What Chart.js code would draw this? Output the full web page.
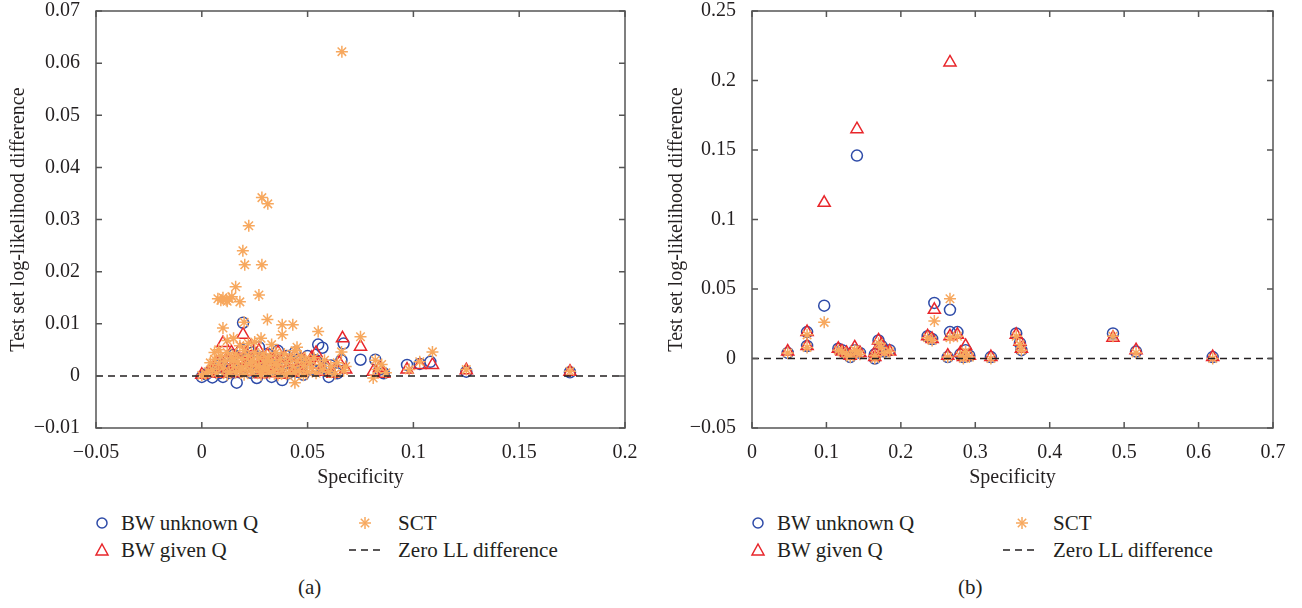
<!DOCTYPE html>
<html>
<head>
<meta charset="utf-8">
<script src="https://cdn.jsdelivr.net/npm/chart.js@4.4.0/dist/chart.umd.min.js"></script>
<style>
  body { margin: 0; background: #fff; width: 1302px; height: 608px; position: relative; overflow: hidden; }
  canvas { position: absolute; top: 0; }
  .lg, .cap { position: absolute; font-family: 'Liberation Serif', serif; color: #231f20; font-size: 21px; line-height: 24px; white-space: nowrap; }
  .mk { position: absolute; }
</style>
</head>
<body>
<canvas id="chartA" width="651" height="500" style="left:0"></canvas>
<canvas id="chartB" width="651" height="500" style="left:651px"></canvas>

<!-- legend (a) -->
<svg class="mk" style="left:94px;top:515px" width="16" height="16"><circle cx="8" cy="8" r="5" fill="none" stroke="#2e4ba8" stroke-width="1.5"/></svg>
<div class="lg" style="left:121px;top:511px">BW unknown Q</div>
<svg class="mk" style="left:94px;top:542px" width="16" height="16"><polygon points="8,2 14,13 2,13" fill="none" stroke="#e8262b" stroke-width="1.5"/></svg>
<div class="lg" style="left:121px;top:538px">BW given Q</div>
<svg class="mk" style="left:357px;top:515px" width="16" height="16"><g stroke="#f7a85e" stroke-width="1.5"><line x1="2" y1="8" x2="14" y2="8"/><line x1="8" y1="2" x2="8" y2="14"/><line x1="3.8" y1="3.8" x2="12.2" y2="12.2"/><line x1="3.8" y1="12.2" x2="12.2" y2="3.8"/></g></svg>
<div class="lg" style="left:398px;top:511px">SCT</div>
<svg class="mk" style="left:349px;top:542px" width="36" height="16"><line x1="0" y1="8" x2="34" y2="8" stroke="#231f20" stroke-width="1.5" stroke-dasharray="7,5"/></svg>
<div class="lg" style="left:398px;top:538px">Zero LL difference</div>
<div class="cap" style="left:298px;top:575px">(a)</div>

<!-- legend (b) -->
<svg class="mk" style="left:750px;top:515px" width="16" height="16"><circle cx="8" cy="8" r="5" fill="none" stroke="#2e4ba8" stroke-width="1.5"/></svg>
<div class="lg" style="left:777px;top:511px">BW unknown Q</div>
<svg class="mk" style="left:750px;top:542px" width="16" height="16"><polygon points="8,2 14,13 2,13" fill="none" stroke="#e8262b" stroke-width="1.5"/></svg>
<div class="lg" style="left:777px;top:538px">BW given Q</div>
<svg class="mk" style="left:1014px;top:515px" width="16" height="16"><g stroke="#f7a85e" stroke-width="1.5"><line x1="2" y1="8" x2="14" y2="8"/><line x1="8" y1="2" x2="8" y2="14"/><line x1="3.8" y1="3.8" x2="12.2" y2="12.2"/><line x1="3.8" y1="12.2" x2="12.2" y2="3.8"/></g></svg>
<div class="lg" style="left:1053px;top:511px">SCT</div>
<svg class="mk" style="left:1003px;top:542px" width="36" height="16"><line x1="0" y1="8" x2="34" y2="8" stroke="#231f20" stroke-width="1.5" stroke-dasharray="7,5"/></svg>
<div class="lg" style="left:1053px;top:538px">Zero LL difference</div>
<div class="cap" style="left:958px;top:575px">(b)</div>

<script>
// ---- tick values ----
const aXTicks = [-0.05, 0, 0.05, 0.1, 0.15, 0.2];
const aYTicks = [-0.01, 0, 0.01, 0.02, 0.03, 0.04, 0.05, 0.06, 0.07];
const bXTicks = [0, 0.1, 0.2, 0.3, 0.4, 0.5, 0.6, 0.7];
const bYTicks = [-0.05, 0, 0.05, 0.1, 0.15, 0.2, 0.25];

const xTitle = "Specificity";
const yTitle = "Test set log-likelihood difference";

// ---- panel (a) : [specificity, LL difference] ----
const aBwUnknown = [
  [0.000,-0.0002],[0.002,0.0003],[0.004,0.0008],[0.005,-0.0003],[0.006,0.0012],[0.007,0.002],[0.008,0.0005],
  [0.009,0.0025],[0.010,-0.0002],[0.011,0.0015],[0.012,0.003],[0.013,0.0006],[0.014,0.0022],[0.015,0.004],
  [0.0165,-0.0013],[0.017,0.0012],[0.018,0.003],[0.019,0.005],[0.0195,0.0102],[0.021,0.0018],[0.022,0.0035],
  [0.023,0.0006],[0.024,0.0045],[0.025,0.0026],[0.026,-0.0004],[0.027,0.0055],[0.028,0.0015],[0.029,0.0032],
  [0.030,0.0008],[0.031,0.0042],[0.032,0.0022],[0.033,-0.0002],[0.034,0.0035],[0.035,0.0012],[0.036,0.0048],
  [0.037,0.0025],[0.038,-0.0008],[0.039,0.0015],[0.040,0.0038],[0.041,0.0005],[0.042,0.0028],[0.043,0.0018],
  [0.044,0.0045],[0.045,0.0008],[0.046,0.0032],[0.047,0.002],[0.048,0.0002],[0.050,0.0038],[0.052,0.0012],
  [0.054,0.003],[0.055,0.006],[0.057,0.0054],[0.058,0.0015],[0.060,-0.0002],[0.061,0.002],[0.064,0.0005],
  [0.066,0.003],[0.067,0.0062],[0.075,0.0031],[0.082,0.0031],[0.084,0.0012],[0.086,0.0005],[0.097,0.0021],
  [0.103,0.0023],[0.108,0.0027],[0.125,0.0008],[0.174,0.0007]
];
const aBwGiven = [
  [0.000,0.0002],[0.003,0.0006],[0.005,0.0015],[0.007,0.0025],[0.008,0.0004],[0.010,0.0063],[0.011,0.0018],
  [0.012,0.0035],[0.013,0.001],[0.014,0.0045],[0.015,0.0022],[0.016,0.0005],[0.017,0.003],[0.018,0.005],
  [0.0195,0.0079],[0.020,0.0015],[0.021,0.0042],[0.022,0.0025],[0.023,0.0055],[0.024,0.0008],[0.025,0.0035],
  [0.026,0.0018],[0.027,0.0048],[0.028,0.0003],[0.029,0.003],[0.030,0.0012],[0.031,0.004],[0.032,0.0022],
  [0.033,0.0005],[0.034,0.0032],[0.035,0.0015],[0.036,0.0045],[0.037,0.0025],[0.038,0.0002],[0.039,0.0035],
  [0.040,0.0012],[0.042,0.0028],[0.043,0.0008],[0.044,0.0038],[0.046,0.0018],[0.047,0.0006],[0.048,0.003],
  [0.050,0.0015],[0.052,0.0035],[0.054,0.0044],[0.055,0.0022],[0.057,0.0008],[0.059,0.0018],[0.062,0.0004],
  [0.065,0.0025],[0.0665,0.0072],[0.068,0.0012],[0.075,0.0056],[0.081,0.0008],[0.084,0.0015],[0.086,0.0004],
  [0.097,0.0012],[0.103,0.0021],[0.109,0.0021],[0.125,0.0011],[0.174,0.0008]
];
const aSct = [
  [0.0662,0.0622],[0.0284,0.0342],[0.0312,0.033],[0.0222,0.0288],[0.0194,0.024],[0.0203,0.0213],[0.0284,0.0213],
  [0.016,0.0171],[0.027,0.0155],[0.018,0.0142],[0.0076,0.0148],[0.009,0.0145],[0.010,0.015],[0.0115,0.0146],
  [0.013,0.0148],[0.0142,0.0152],[0.012,0.0143],
  [0.031,0.0108],[0.038,0.0098],[0.043,0.0098],[0.020,0.0103],[0.010,0.0092],[0.038,0.0079],[0.055,0.0085],
  [0.075,0.0075],[0.109,0.0046],[0.103,0.0027],[0.082,0.003],[0.066,0.0046],[0.081,-0.0004],[0.044,-0.0013],
  [0.012,0.0068],[0.015,0.0072],[0.022,0.0062],[0.018,0.0058],[0.025,0.0065],[0.033,0.006],[0.045,0.0055],
  [0.028,0.0072],[0.006,0.0045],[0.008,0.005],
  [0.003,0.0008],[0.004,0.0025],[0.005,0.0012],[0.006,0.0032],[0.007,0.0005],[0.008,0.0022],[0.009,0.0038],
  [0.010,0.0015],[0.011,0.0028],[0.012,0.0045],[0.013,0.0008],[0.014,0.0035],[0.015,0.0018],[0.016,0.0042],
  [0.017,0.0025],[0.018,0.001],[0.019,0.0033],[0.020,0.0048],[0.021,0.002],[0.022,0.0038],[0.023,0.0012],
  [0.024,0.003],[0.025,0.0045],[0.026,0.0018],[0.027,0.0035],[0.028,0.0008],[0.029,0.0042],[0.030,0.0025],
  [0.031,0.0015],[0.032,0.0038],[0.033,0.0028],[0.034,0.001],[0.035,0.0045],[0.036,0.002],[0.037,0.0032],
  [0.038,0.0012],[0.039,0.0042],[0.040,0.0025],[0.041,0.0005],[0.042,0.0035],[0.043,0.0018],[0.044,0.0048],
  [0.045,0.0028],[0.046,0.001],[0.047,0.0038],[0.048,0.002],[0.049,0.0032],[0.050,0.0008],[0.051,0.0025],
  [0.052,0.0015],[0.053,0.0035],[0.054,0.0005],[0.056,0.0022],[0.057,0.0012],[0.058,0.003],[0.060,0.0008],
  [0.061,0.0018],[0.063,0.0004],[0.064,0.0025],[0.067,0.001],[0.068,0.0018],[0.083,0.0012],[0.085,0.0022],
  [0.087,0.0006],[0.098,0.0012],[0.125,0.0012],[0.174,0.0009],[0.000,0.0001],[0.002,0.0004],
  [0.012,0.0002],[0.016,0.0006],[0.020,0.0002],[0.024,0.0006],[0.028,0.0002],[0.032,0.0005],[0.036,0.0001],
  [0.040,0.0003],[0.044,0.0006],[0.048,0.0001],[0.015,0.003],[0.019,0.0015],[0.023,0.0025],[0.027,0.002],
  [0.031,0.003],[0.035,0.0022],[0.029,0.0015]
];
const aZeroX = [-0.05, 0.2];

// ---- panel (b) ----
const bSpec = [0.048,0.074,0.074,0.097,0.116,0.121,0.127,0.132,0.138,0.141,0.145,0.165,0.165,0.170,0.174,0.178,
  0.185,0.236,0.242,0.245,0.266,0.263,0.266,0.276,0.280,0.284,0.287,0.292,0.321,0.355,0.360,0.362,0.485,0.516,0.619];
const bBwUnknown = [0.004,0.019,0.009,0.038,0.007,0.006,0.003,0.001,0.006,0.146,0.004,0.003,0.000,0.013,0.009,0.005,
  0.006,0.016,0.014,0.040,0.035,0.001,0.019,0.019,0.003,0.001,0.006,0.002,0.001,0.018,0.011,0.006,0.018,0.005,0.001];
const bBwGiven = [0.005,0.019,0.009,0.112,0.007,0.005,0.004,0.002,0.008,0.165,0.004,0.004,0.001,0.013,0.010,0.006,
  0.005,0.016,0.014,0.035,0.213,0.002,0.016,0.017,0.004,0.001,0.009,0.002,0.001,0.017,0.012,0.007,0.015,0.006,0.001];
const bSct = [0.004,0.017,0.008,0.026,0.006,0.005,0.003,0.001,0.006,0.005,0.003,0.002,0.000,0.011,0.008,0.004,
  0.005,0.015,0.013,0.027,0.043,0.001,0.015,0.016,0.002,0.000,0.005,0.001,0.000,0.016,0.010,0.006,0.016,0.004,0.000];
const bZeroX = [0, 0.7];

const INK = '#231f20';
const BLUE = '#2e4ba8', RED = '#e8262b', ORANGE = '#f7a85e';

Chart.defaults.font.family = "'Liberation Serif', serif";
Chart.defaults.color = INK;

function fmt(v) {
  return String(parseFloat(v.toFixed(3))).replace('-', '\u2212');
}

// box around the plot with inward ticks on all four sides
const frame = {
  id: 'frame',
  afterDraw(chart) {
    const { ctx, chartArea: a, scales: { x, y } } = chart;
    ctx.save();
    ctx.strokeStyle = '#555';
    ctx.lineWidth = 1.5;
    ctx.strokeRect(a.left, a.top, a.right - a.left, a.bottom - a.top);
    ctx.beginPath();
    x.ticks.forEach(t => {
      const px = x.getPixelForValue(t.value);
      ctx.moveTo(px, a.bottom); ctx.lineTo(px, a.bottom - 6);
      ctx.moveTo(px, a.top); ctx.lineTo(px, a.top + 6);
    });
    y.ticks.forEach(t => {
      const py = y.getPixelForValue(t.value);
      ctx.moveTo(a.left, py); ctx.lineTo(a.left + 6, py);
      ctx.moveTo(a.right, py); ctx.lineTo(a.right - 6, py);
    });
    ctx.stroke();
    ctx.restore();
  }
};

function makePanel(id, p) {
  new Chart(document.getElementById(id), {
    type: 'scatter',
    data: {
      datasets: [
        {
          label: 'Zero LL difference', type: 'line',
          data: p.zeroX.map(v => ({ x: v, y: 0 })),
          borderColor: INK, borderWidth: 1.5, borderDash: [7, 5], pointRadius: 0, order: 0
        },
        {
          label: 'SCT', data: p.sct,
          pointStyle: 'star', pointRadius: 6, borderColor: ORANGE, pointBorderWidth: 1.5,
          backgroundColor: ORANGE, order: 1
        },
        {
          label: 'BW given Q', data: p.given,
          pointStyle: 'triangle', pointRadius: 7, borderColor: RED, pointBorderWidth: 1.5,
          backgroundColor: 'rgba(0,0,0,0)', order: 2
        },
        {
          label: 'BW unknown Q', data: p.unknown,
          pointStyle: 'circle', pointRadius: 5.5, borderColor: BLUE, pointBorderWidth: 1.5,
          backgroundColor: 'rgba(0,0,0,0)', order: 3
        }
      ]
    },
    options: {
      responsive: false,
      animation: false,
      layout: { padding: { top: 11, right: p.padRight, left: 0, bottom: 0 } },
      plugins: { legend: { display: false }, tooltip: { enabled: false } },
      scales: {
        x: {
          type: 'linear', min: p.xTicks[0], max: p.xTicks[p.xTicks.length - 1],
          afterBuildTicks: s => { s.ticks = p.xTicks.map(v => ({ value: v })); },
          afterFit: s => { s.height = 72; s.paddingLeft = 0; s.paddingRight = 0; },
          grid: { display: false }, border: { display: false },
          ticks: { font: { size: 20 }, padding: 5, maxRotation: 0, callback: v => fmt(v) },
          title: { display: true, text: xTitle, font: { size: 20 }, padding: { top: 0, bottom: 10 } }
        },
        y: {
          type: 'linear', min: p.yTicks[0], max: p.yTicks[p.yTicks.length - 1],
          afterBuildTicks: s => { s.ticks = p.yTicks.map(v => ({ value: v })); },
          afterFit: s => { s.width = p.yWidth; s.paddingTop = 0; s.paddingBottom = 0; },
          grid: { display: false }, border: { display: false },
          ticks: { font: { size: 20 }, padding: 8, callback: v => fmt(v) },
          title: { display: true, text: yTitle, font: { size: 20 }, padding: { top: p.titlePad, bottom: 0 } }
        }
      }
    },
    plugins: [frame]
  });
}

makePanel('chartA', {
  xTicks: aXTicks, yTicks: aYTicks, zeroX: aZeroX,
  unknown: aBwUnknown.map(d => ({ x: d[0], y: d[1] })),
  given: aBwGiven.map(d => ({ x: d[0], y: d[1] })),
  sct: aSct.map(d => ({ x: d[0], y: d[1] })),
  padRight: 26, yWidth: 96, titlePad: 7
});

makePanel('chartB', {
  xTicks: bXTicks, yTicks: bYTicks, zeroX: bZeroX,
  unknown: bSpec.map((v, i) => ({ x: v, y: bBwUnknown[i] })),
  given: bSpec.map((v, i) => ({ x: v, y: bBwGiven[i] })),
  sct: bSpec.map((v, i) => ({ x: v, y: bSct[i] })),
  padRight: 29, yWidth: 101, titlePad: 14
});
</script>
</body>
</html>
